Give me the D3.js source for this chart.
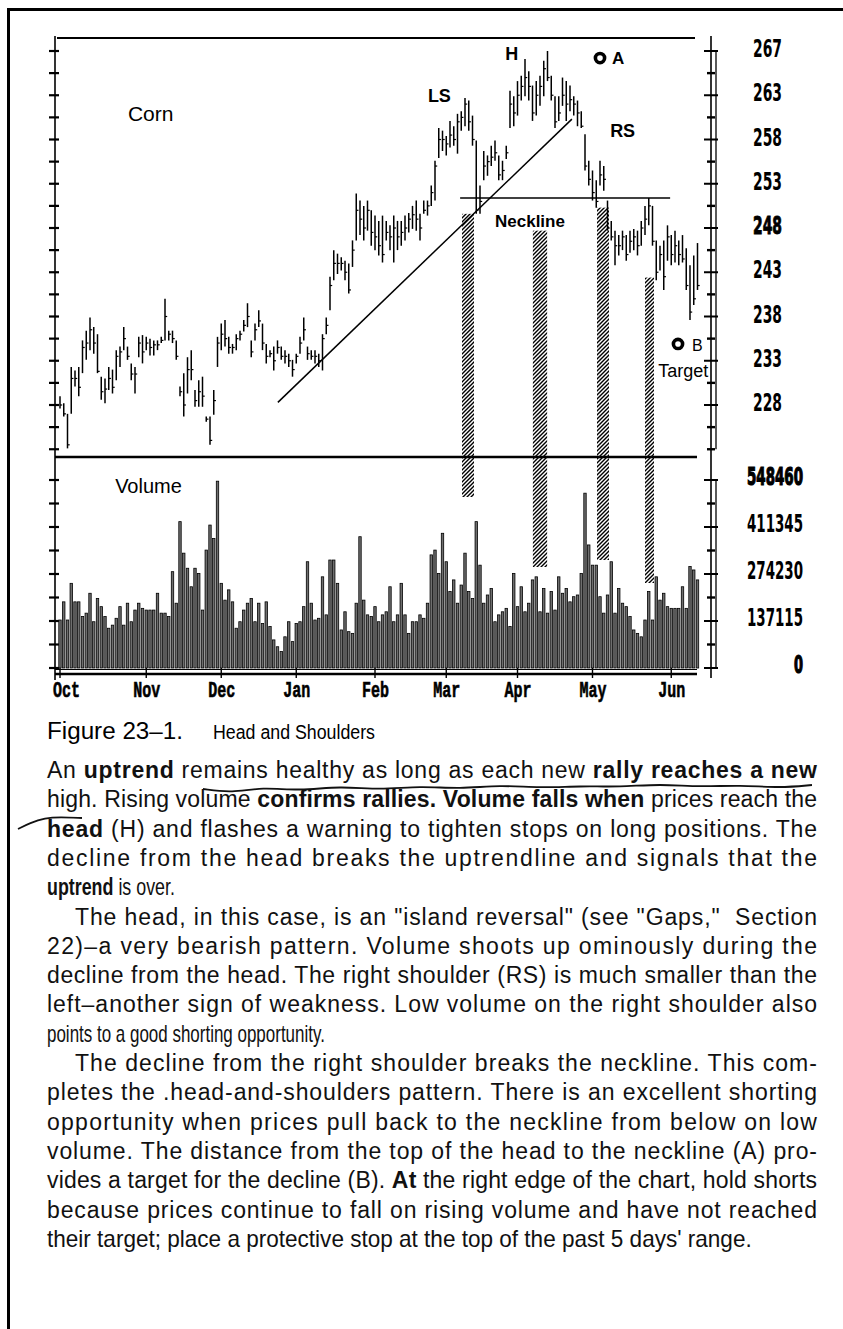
<!DOCTYPE html>
<html>
<head>
<meta charset="utf-8">
<script src="https://cdn.jsdelivr.net/npm/d3@7"></script>
<style>
  body { margin: 0; background: #fff; }
  svg { display: block; }
</style>
</head>
<body>
<script>
// ---- data (trading-day index 0 = first day of October) ----
const months = ['Oct', 'Nov', 'Dec', 'Jan', 'Feb', 'Mar', 'Apr', 'May', 'Jun'];
const monthStart = [0, 23, 43, 63, 84, 103, 122, 142, 163];

const high = [
  229.0, 228.2, 227.0, 232.3, 231.9, 232.3, 235.3, 236.4, 237.9, 236.8,
  236.0, 231.2, 231.0, 232.3, 232.0, 234.2, 234.6, 236.8, 234.6, 232.7,
  232.3, 235.7, 235.9, 235.7, 235.5, 235.3, 235.3, 235.7, 240.0, 236.4,
  236.4, 235.3, 230.1, 231.6, 233.4, 234.2, 229.7, 230.8, 231.2, 226.7,
  226.7, 229.7, 235.7, 237.2, 237.6, 235.7, 234.9, 236.0, 236.4, 237.6,
  239.5, 235.3, 237.2, 238.7, 237.2, 234.9, 234.2, 234.6, 235.3, 234.6,
  234.2, 233.8, 233.1, 233.8, 235.7, 237.9, 234.6, 234.2, 234.2, 233.8,
  236.0, 237.9, 242.5, 245.5, 245.1, 244.7, 244.3, 244.0, 246.6, 251.9,
  251.1, 250.5, 251.1, 250.0, 249.4, 248.8, 249.4, 248.8, 248.3, 249.4,
  248.8, 248.8, 249.4, 249.7, 250.5, 251.1, 249.6, 251.1, 251.1, 252.8,
  255.6, 259.3, 259.0, 258.4, 260.1, 259.5, 260.9, 261.2, 262.7, 262.4,
  260.7, 257.9, 252.8, 256.7, 256.2, 257.3, 257.9, 256.2, 255.6, 257.3,
  263.5, 262.9, 264.6, 265.2, 267.1, 265.7, 264.1, 264.6, 265.2, 266.9,
  268.0, 265.2, 262.9, 262.9, 265.0, 264.6, 264.1, 262.9, 262.4, 261.2,
  258.6, 255.6, 254.5, 253.4, 255.6, 255.0, 251.1, 248.8, 247.7, 247.2,
  247.7, 247.2, 247.7, 247.9, 247.7, 248.8, 250.5, 251.4, 250.5, 246.6,
  246.0, 246.6, 248.3, 247.2, 247.7, 246.6, 247.2, 245.7, 243.8, 244.9,
  246.3
];
const low = [
  227.6, 226.7, 223.1, 227.0, 230.1, 229.0, 231.6, 233.1, 234.2, 233.8,
  231.6, 228.6, 228.2, 229.7, 229.3, 230.8, 232.3, 234.2, 233.1, 230.8,
  229.3, 233.4, 232.7, 234.2, 233.6, 233.6, 234.2, 235.0, 235.3, 235.3,
  235.0, 233.1, 229.0, 226.7, 229.3, 230.8, 227.8, 227.8, 227.8, 226.1,
  223.5, 226.9, 232.3, 234.2, 234.6, 233.8, 233.8, 234.2, 235.3, 236.3,
  236.8, 233.4, 235.3, 236.8, 234.2, 232.7, 233.4, 231.9, 233.8, 233.1,
  232.7, 232.3, 231.2, 232.7, 233.8, 235.3, 233.1, 233.1, 232.7, 232.3,
  231.9, 236.0, 238.7, 242.1, 242.8, 243.2, 242.1, 240.6, 243.6, 246.6,
  247.2, 246.6, 247.7, 246.0, 245.5, 244.9, 244.1, 246.6, 245.5, 244.1,
  245.5, 246.0, 246.6, 247.5, 247.9, 247.7, 246.6, 249.6, 249.4, 250.5,
  251.1, 255.9, 256.7, 256.2, 257.1, 257.3, 256.4, 259.0, 259.5, 259.0,
  257.3, 249.6, 249.6, 253.4, 253.9, 255.0, 255.6, 253.4, 253.4, 255.8,
  259.3, 259.5, 260.7, 262.4, 262.9, 262.4, 260.1, 260.7, 261.8, 262.9,
  264.6, 262.4, 259.3, 260.1, 261.8, 260.1, 261.2, 260.7, 259.5, 259.3,
  254.5, 252.8, 251.1, 250.3, 252.8, 252.2, 247.7, 246.6, 243.8, 244.9,
  245.5, 244.3, 245.2, 245.5, 244.9, 246.0, 247.2, 248.3, 246.0, 242.1,
  243.2, 241.0, 244.3, 243.8, 244.1, 243.8, 244.1, 241.0, 237.6, 239.3,
  241.0
];
const close = [
  228.0, 227.0, 223.5, 231.0, 231.0, 230.0, 234.5, 235.0, 236.5, 235.0,
  231.8, 229.5, 229.8, 231.0, 230.0, 233.5, 234.0, 235.5, 233.5, 231.5,
  231.5, 235.0, 234.0, 235.0, 234.5, 234.8, 234.8, 235.3, 238.0, 236.0,
  235.5, 233.5, 229.5, 228.0, 232.0, 232.0, 228.5, 229.5, 229.0, 226.4,
  224.0, 228.5, 235.0, 236.0, 235.5, 234.5, 234.5, 235.5, 236.0, 237.0,
  238.0, 234.0, 236.5, 237.5, 235.0, 233.5, 233.8, 233.0, 234.5, 233.5,
  233.5, 233.0, 232.0, 233.5, 235.0, 236.5, 233.8, 233.5, 233.5, 233.0,
  235.5, 237.0, 241.5, 244.0, 244.0, 244.0, 243.0, 241.0, 245.5, 250.0,
  249.0, 248.0, 250.0, 247.5, 247.0, 246.0, 245.0, 247.5, 247.0, 248.0,
  247.0, 247.5, 248.0, 249.0, 249.5, 249.0, 248.0, 250.0, 250.5, 252.0,
  255.0, 258.0, 258.0, 257.5, 258.5, 258.0, 260.0, 260.5, 262.0, 260.0,
  258.0, 250.0, 251.0, 255.0, 255.5, 256.0, 256.5, 254.0, 254.5, 256.5,
  262.0, 261.0, 263.0, 264.0, 265.0, 264.0, 261.0, 263.0, 264.0, 266.0,
  265.0, 263.0, 260.0, 261.0, 263.0, 262.0, 262.5, 262.0, 261.0, 259.5,
  255.0, 253.5, 252.0, 251.0, 254.0, 253.5, 248.0, 247.0, 246.0, 246.0,
  247.0, 245.0, 246.5, 247.0, 246.0, 248.0, 249.0, 250.5, 246.5, 243.0,
  245.0, 242.5, 247.0, 245.0, 246.0, 245.0, 244.5, 241.5, 238.5, 240.0,
  241.5
];
const volume = [
  140000, 193000, 140000, 247000, 193000, 193000, 150000, 160000, 218000, 135000,
  203000, 179000, 150000, 116000, 125000, 145000, 179000, 125000, 189000, 135000,
  169000, 189000, 174000, 169000, 169000, 169000, 218000, 160000, 160000, 150000,
  281000, 189000, 427000, 335000, 291000, 237000, 291000, 276000, 169000, 344000,
  417000, 378000, 545000, 247000, 198000, 228000, 193000, 116000, 135000, 169000,
  189000, 203000, 135000, 189000, 130000, 193000, 121000, 82000, 62000, 48000,
  91000, 135000, 77000, 130000, 135000, 179000, 310000, 189000, 140000, 145000,
  266000, 155000, 315000, 315000, 247000, 111000, 164000, 106000, 101000, 189000,
  383000, 198000, 155000, 150000, 179000, 135000, 155000, 164000, 237000, 135000,
  155000, 247000, 155000, 101000, 135000, 135000, 155000, 145000, 189000, 330000,
  344000, 276000, 393000, 310000, 223000, 257000, 189000, 242000, 335000, 223000,
  203000, 427000, 300000, 189000, 213000, 232000, 135000, 155000, 164000, 174000,
  121000, 276000, 179000, 237000, 164000, 189000, 257000, 266000, 164000, 232000,
  160000, 223000, 169000, 266000, 218000, 232000, 193000, 208000, 213000, 276000,
  510000, 359000, 300000, 300000, 208000, 160000, 213000, 310000, 160000, 232000,
  189000, 179000, 150000, 111000, 101000, 91000, 140000, 223000, 140000, 266000,
  198000, 218000, 179000, 174000, 174000, 174000, 237000, 174000, 296000, 286000,
  257000
];

const priceTicks = [268, 263, 258, 253, 248, 243, 238, 233, 228];
const priceTickLabels = ['267', '263', '258', '253', '248', '243', '238', '233', '228'];
const volumeTicks = [548460, 411345, 274230, 137115, 0];
const volumeTickLabels = ['548460', '411345', '274230', '137115', '0'];

// pattern annotations (day index, price / volume)
const uptrendLine = [[58.1, 228.3], [136.5, 260.3]];
const neckLine = [[106.7, 251.4], [162.7, 251.4]];
const hatchBars = [
  { d0: 107.2, d1: 110.4, top: 249.6, bottom: 498870 },
  { d0: 126.1, d1: 129.9, top: 247.7, bottom: 294650 },
  { d0: 143.2, d1: 146.4, top: 250.3, bottom: 315070 },
  { d0: 156.0, d1: 158.4, top: 242.4, bottom: 247980 }
];
const priceNotes = [
  { text: 'Corn', day: 18.1, price: 260.1, size: 21, weight: 'normal' },
  { text: 'LS', day: 98.1, price: 262.2, size: 18, weight: 'bold' },
  { text: 'H', day: 118.7, price: 267.0, size: 18, weight: 'bold' },
  { text: 'RS', day: 146.7, price: 258.3, size: 18, weight: 'bold' },
  { text: 'Neckline', day: 116, price: 248.1, size: 17, weight: 'bold' },
  { text: 'A', day: 147.2, price: 266.5, size: 17, weight: 'bold' },
  { text: 'B', day: 168.5, price: 234.1, size: 16, weight: 'normal' },
  { text: 'Target', day: 159.5, price: 231.2, size: 18, weight: 'normal' }
];
const markers = [{ day: 144, price: 267.2 }, { day: 164.8, price: 234.9 }];

// ---- layout ----
const width = 843, height = 1329;
const sans = "'Liberation Sans', Arial, Helvetica, sans-serif";
const narrow = "'Liberation Sans Narrow', 'DejaVu Sans Condensed', 'Liberation Sans', sans-serif";
const mono = "'Liberation Mono', 'DejaVu Sans Mono', monospace";

const svg = d3.select('body').append('svg')
  .attr('width', width)
  .attr('height', height);

const N = high.length;
const x = d3.scaleLinear().domain([0, N - 1]).range([60, 697.5]);
const yP = d3.scaleLinear().domain([228, 268]).range([405, 51]);
const yV = d3.scaleLinear().domain([0, 548460]).range([668, 480]);

const axisL = 55, axisR = 711, frameR = 697;
const panelTop = 38, panelSplit = 457, panelBase = 674;

// page border
svg.append('line').attr('x1', 8.5).attr('x2', 8.5).attr('y1', 8).attr('y2', height)
  .attr('stroke', '#000').attr('stroke-width', 3);
svg.append('line').attr('x1', 7).attr('x2', width).attr('y1', 9.5).attr('y2', 9.5)
  .attr('stroke', '#000').attr('stroke-width', 3);

// hatch pattern
const defs = svg.append('defs');
const pat = defs.append('pattern').attr('id', 'hatch')
  .attr('patternUnits', 'userSpaceOnUse').attr('width', 4).attr('height', 4);
pat.append('path').attr('d', 'M-1,1 l2,-2 M0,4 l4,-4 M3,5 l2,-2')
  .attr('stroke', '#000').attr('stroke-width', 1.4);

const chart = svg.append('g');

// frame
const frame = [
  [57, panelTop, 695, panelTop, 2.2],
  [axisL, panelSplit, frameR, panelSplit, 2.4],
  [axisL, 669.5, frameR, 669.5, 1.2],
  [axisL, panelBase, frameR, panelBase, 2.6],
  [axisL, 36, axisL, 680, 1.6],
  [axisR, 36, axisR, 678, 1.6],
  [716, yP(268), 716, yP(223), 1.3],
  [716, yV(548460), 716, yV(0), 1.3]
];
chart.selectAll('line.frame').data(frame).join('line')
  .attr('class', 'frame')
  .attr('x1', d => d[0]).attr('y1', d => d[1])
  .attr('x2', d => d[2]).attr('y2', d => d[3])
  .attr('stroke', '#000').attr('stroke-width', d => d[4]);

// left ticks
const leftPriceTicks = d3.range(223, 268.01, 2.5);
const leftVolTicks = d3.range(0, 548461, 68557.5);
const tickYs = leftPriceTicks.map(yP).concat(leftVolTicks.map(yV));
chart.selectAll('line.ltick').data(tickYs).join('line')
  .attr('class', 'ltick')
  .attr('x1', axisL - 6).attr('x2', axisL + 4)
  .attr('y1', d => d).attr('y2', d => d)
  .attr('stroke', '#000').attr('stroke-width', 2.2);

// right ticks
const rightTicks = leftPriceTicks.map(v => ({ y: yP(v), major: priceTicks.includes(v) }))
  .concat(leftVolTicks.map(v => ({ y: yV(v), major: volumeTicks.some(t => Math.abs(t - v) < 1) })));
chart.selectAll('line.rtick').data(rightTicks).join('line')
  .attr('class', 'rtick')
  .attr('x1', d => d.major ? axisR - 7 : axisR - 4)
  .attr('x2', d => d.major ? 718 : axisR + 4)
  .attr('y1', d => d.y).attr('y2', d => d.y)
  .attr('stroke', '#000').attr('stroke-width', d => d.major ? 2 : 2.4);

// month ticks + labels
chart.selectAll('line.mtick').data(monthStart).join('line')
  .attr('class', 'mtick')
  .attr('x1', d => x(d)).attr('x2', d => x(d))
  .attr('y1', 664).attr('y2', 678)
  .attr('stroke', '#000').attr('stroke-width', 1.4);
chart.selectAll('text.month').data(months).join('text')
  .attr('class', 'month')
  .attr('x', (d, i) => i === 0 ? x(monthStart[i]) - 7 : x(monthStart[i]) - 13)
  .attr('y', 697)
  .attr('font-family', mono).attr('font-weight', 'bold').attr('font-size', 22)
  .attr('stroke', '#000').attr('stroke-width', 0.6)
  .attr('textLength', 27).attr('lengthAdjust', 'spacingAndGlyphs')
  .text(d => d);

// right axis labels
chart.selectAll('text.plab').data(priceTicks).join('text')
  .attr('class', 'plab')
  .attr('x', 753).attr('y', d => yP(d) + 6)
  .attr('font-family', narrow).attr('font-weight', 'bold').attr('font-size', 24)
  .attr('textLength', 29).attr('lengthAdjust', 'spacingAndGlyphs')
  .attr('stroke', (d, i) => priceTickLabels[i] === '248' ? '#000' : 'none')
  .attr('stroke-width', 0.9)
  .text((d, i) => priceTickLabels[i]);
chart.selectAll('text.vlab').data(volumeTicks).join('text')
  .attr('class', 'vlab')
  .attr('x', (d, i) => 803 - (volumeTickLabels[i].length > 1 ? 56 : 9))
  .attr('y', d => yV(d) + 5)
  .attr('font-family', narrow).attr('font-weight', 'bold').attr('font-size', 24)
  .attr('textLength', (d, i) => volumeTickLabels[i].length > 1 ? 56 : 9)
  .attr('lengthAdjust', 'spacingAndGlyphs')
  .attr('stroke', (d, i) => (i === 0 || i === 4) ? '#000' : 'none')
  .attr('stroke-width', 1.2)
  .text((d, i) => volumeTickLabels[i]);

// volume bars
chart.append('g').selectAll('rect').data(volume).join('rect')
  .attr('x', (d, i) => x(i) - 1.2)
  .attr('width', 2.4)
  .attr('y', d => yV(d))
  .attr('height', d => yV(0) - yV(d))
  .attr('fill', '#6e6e6e')
  .attr('stroke', '#000')
  .attr('stroke-width', 0.8);

// hatched bars
chart.append('g').selectAll('rect').data(hatchBars).join('rect')
  .attr('x', d => x(d.d0))
  .attr('width', d => x(d.d1) - x(d.d0))
  .attr('y', d => yP(d.top))
  .attr('height', d => yV(d.bottom) - yP(d.top))
  .attr('fill', 'url(#hatch)');

// price bars (high-low with close tick)
const bars = chart.append('g').attr('stroke', '#000');
bars.selectAll('line.hl').data(d3.range(N)).join('line')
  .attr('class', 'hl')
  .attr('x1', i => x(i)).attr('x2', i => x(i))
  .attr('y1', i => yP(high[i])).attr('y2', i => yP(low[i]))
  .attr('stroke-width', 1.5);
bars.selectAll('line.cl').data(d3.range(N)).join('line')
  .attr('class', 'cl')
  .attr('x1', i => x(i)).attr('x2', i => x(i) + 2.2)
  .attr('y1', i => yP(close[i])).attr('y2', i => yP(close[i]))
  .attr('stroke-width', 1.2);

// trend line and neckline
const pline = d3.line().x(d => x(d[0])).y(d => yP(d[1]));
chart.selectAll('path.pattern').data([uptrendLine, neckLine]).join('path')
  .attr('class', 'pattern')
  .attr('d', pline)
  .attr('fill', 'none').attr('stroke', '#000').attr('stroke-width', 1.5);

// annotations
chart.selectAll('text.note').data(priceNotes).join('text')
  .attr('class', 'note')
  .attr('x', d => x(d.day)).attr('y', d => yP(d.price))
  .attr('font-family', sans).attr('font-size', d => d.size).attr('font-weight', d => d.weight)
  .text(d => d.text);
chart.append('text')
  .attr('x', x(14.7)).attr('y', yV(510500))
  .attr('font-family', sans).attr('font-size', 20)
  .text('Volume');
chart.selectAll('circle.mark').data(markers).join('circle')
  .attr('class', 'mark')
  .attr('cx', d => x(d.day)).attr('cy', d => yP(d.price))
  .attr('r', 4.6)
  .attr('fill', '#fff').attr('stroke', '#000').attr('stroke-width', 3.6);

// ---- caption and text ----
svg.append('text').attr('x', 47).attr('y', 739)
  .attr('font-family', sans).attr('font-size', 23)
  .attr('textLength', 136).attr('lengthAdjust', 'spacingAndGlyphs')
  .text('Figure 23\u20131.');
svg.append('text').attr('x', 213).attr('y', 739)
  .attr('font-family', sans).attr('font-size', 20)
  .attr('textLength', 162).attr('lengthAdjust', 'spacingAndGlyphs')
  .text('Head and Shoulders');

const bodyLines = [
  { x: 47, w: 770, parts: [['An ', 0], ['uptrend', 1], [' remains healthy as long as each new ', 0], ['rally reaches a new', 1]] },
  { x: 47, w: 770, parts: [['high. Rising volume ', 0], ['confirms rallies. Volume falls when', 1], [' prices reach the', 0]] },
  { x: 47, w: 770, parts: [['head', 1], [' (H) and flashes a warning to tighten stops on long positions. The', 0]] },
  { x: 47, w: 770, parts: [['decline from the head breaks the uptrendline and signals that the', 0]] },
  { x: 47, w: 128, parts: [['uptrend', 1], [' is over.', 0]] },
  { x: 75, w: 742, parts: [['The head, in this case, is an "island reversal" (see "Gaps,"  Section', 0]] },
  { x: 47, w: 770, parts: [['22)\u2013a very bearish pattern. Volume shoots up ominously during the', 0]] },
  { x: 47, w: 770, parts: [['decline from the head. The right shoulder (RS) is much smaller than the', 0]] },
  { x: 47, w: 770, parts: [['left\u2013another sign of weakness. Low volume on the right shoulder also', 0]] },
  { x: 47, w: 278, parts: [['points to a good shorting opportunity.', 0]] },
  { x: 75, w: 742, parts: [['The decline from the right shoulder breaks the neckline. This com-', 0]] },
  { x: 47, w: 770, parts: [['pletes the .head-and-shoulders pattern. There is an excellent shorting', 0]] },
  { x: 47, w: 770, parts: [['opportunity when prices pull back to the neckline from below on low', 0]] },
  { x: 47, w: 770, parts: [['volume. The distance from the top of the head to the neckline (A) pro-', 0]] },
  { x: 47, w: 770, parts: [['vides a target for the decline (B). ', 0], ['At', 1], [' the right edge of the chart, hold shorts', 0]] },
  { x: 47, w: 770, parts: [['because prices continue to fall on rising volume and have not reached', 0]] },
  { x: 47, w: 705, parts: [["their target; place a protective stop at the top of the past 5 days' range.", 0]] }
];
const body = svg.append('g')
  .attr('font-family', sans).attr('font-size', 23).attr('fill', '#111');
const lines = body.selectAll('text').data(bodyLines).join('text')
  .attr('x', 0)
  .attr('y', 0)
  .attr('xml:space', 'preserve');
lines.selectAll('tspan').data(d => d.parts).join('tspan')
  .attr('font-weight', d => d[1] ? 'bold' : 'normal')
  .text(d => d[0]);
// justify: squeeze a long line horizontally, open the spacing of a short one
lines.each(function (d, i) {
  const natural = this.getComputedTextLength();
  const sel = d3.select(this);
  if (natural > d.w) {
    sel.attr('transform', `translate(${d.x},${778 + i * 29.3}) scale(${d.w / natural},1)`);
  } else {
    sel.attr('transform', `translate(${d.x},${778 + i * 29.3})`)
      .attr('textLength', d.w).attr('lengthAdjust', 'spacing');
  }
});

// handwritten marks on the page
const scribble = [
  [[203, 789], [232, 793], [262, 787], [300, 791], [340, 786], [380, 790], [420, 786],
   [460, 789], [500, 785], [540, 788], [580, 786], [620, 787], [660, 784], [700, 787],
   [740, 785], [780, 788], [812, 785]],
  [[18, 829], [30, 823], [45, 818], [60, 817], [82, 818]]
];
svg.selectAll('path.pen').data(scribble).join('path')
  .attr('class', 'pen')
  .attr('d', d3.line().curve(d3.curveBasis))
  .attr('fill', 'none').attr('stroke', '#111').attr('stroke-width', 1.8);
</script>
</body>
</html>
